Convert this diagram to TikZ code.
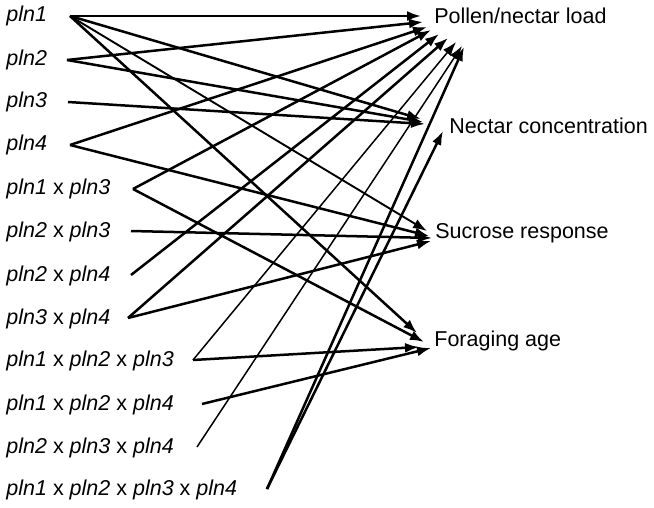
\documentclass[tikz,border=0pt]{standalone}
\usepackage{fontspec}
\setmainfont{Liberation Sans}
\usetikzlibrary{arrows.meta}
\begin{document}
\begin{tikzpicture}[x=0.5pt,y=-0.5pt,
  lab/.style={anchor=base west,inner sep=0pt,font=\fontsize{10.75}{13}\selectfont},
  link/.style={line width=1.25pt,-{Latex[length=7pt,width=5pt]}},
  thinlink/.style={link,line width=0.75pt},
  midlink/.style={link,line width=0.95pt}]
\useasboundingbox (0,0) rectangle (654,508);
% left labels
\node[lab] (a1)  at (6,22)  {\textit{pln1}};
\node[lab] (a2)  at (6,66)  {\textit{pln2}};
\node[lab] (a3)  at (6,108) {\textit{pln3}};
\node[lab] (a4)  at (6,151) {\textit{pln4}};
\node[lab] (a5)  at (6,195) {\textit{pln1} x \textit{pln3}};
\node[lab] (a6)  at (6,237) {\textit{pln2} x \textit{pln3}};
\node[lab] (a7)  at (6,281) {\textit{pln2} x \textit{pln4}};
\node[lab] (a8)  at (6,324) {\textit{pln3} x \textit{pln4}};
\node[lab] (a9)  at (6,366) {\textit{pln1} x \textit{pln2} x \textit{pln3}};
\node[lab] (a10) at (6,410) {\textit{pln1} x \textit{pln2} x \textit{pln4}};
\node[lab] (a11) at (6,453) {\textit{pln2} x \textit{pln3} x \textit{pln4}};
\node[lab] (a12) at (6,495) {\textit{pln1} x \textit{pln2} x \textit{pln3} x \textit{pln4}};
% right labels
\node[lab] (P) at (434,23.5) {Pollen/nectar load};
\node[lab] (N) at (449,134)  {Nectar concentration};
\node[lab] (S) at (435,238.5){Sucrose response};
\node[lab] (F) at (434,346)  {Foraging age};
% start points
\coordinate (s1)  at (70,16);
\coordinate (s2)  at (67,60);
\coordinate (s3)  at (68,102);
\coordinate (s4)  at (70,145);
\coordinate (s5)  at (133,189);
\coordinate (s6)  at (131,231);
\coordinate (s7)  at (131,275);
\coordinate (s8)  at (128,318);
\coordinate (s9)  at (193,360);
\coordinate (s10) at (202,404);
\coordinate (s11) at (197,447);
\coordinate (s12) at (267,489);
% arrow tips at Pollen/nectar load
\coordinate (p1) at (421,16);
\coordinate (p2) at (423,22);
\coordinate (p3) at (427,27);
\coordinate (p4) at (431,30);
\coordinate (p5) at (439,34);
\coordinate (p6) at (448,38);
\coordinate (p7) at (456,42);
\coordinate (p8) at (462,46);
\coordinate (p9) at (464,47);
% tips at Nectar concentration
\coordinate (n1) at (421,119);
\coordinate (n2) at (423,122);
\coordinate (n3) at (425,124);
\coordinate (n4) at (443,131);
% tips at Sucrose response
\coordinate (u1) at (427,231);
\coordinate (u2) at (429,236);
\coordinate (u3) at (432,238);
\coordinate (u4) at (431,241);
% tips at Foraging age
\coordinate (f1) at (417,333);
\coordinate (f2) at (424,342);
\coordinate (f3) at (419,347);
\coordinate (f4) at (431,348);
% connectors
\draw[link] (s1) -- (p1);
\draw[link] (s1) -- (n1);
\draw[midlink] (s1) -- (u1);
\draw[link] (s1) -- (f1);
\draw[link] (s2) -- (p2);
\draw[link] (s2) -- (n2);
\draw[link] (s3) -- (n3);
\draw[link] (s4) -- (p3);
\draw[link] (s4) -- (u2);
\draw[link] (s5) -- (p4);
\draw[link] (s5) -- (f2);
\draw[link] (s6) -- (u3);
\draw[link] (s7) -- (p5);
\draw[link] (s8) -- (p6);
\draw[link] (s8) -- (u4);
\draw[thinlink] (s9) -- (p7);
\draw[link] (s9) -- (f3);
\draw[link] (s10) -- (f4);
\draw[thinlink] (s11) -- (p8);
\draw[link] (s12) -- (p9);
\draw[link] (s12) -- (n4);
\end{tikzpicture}
\end{document}
